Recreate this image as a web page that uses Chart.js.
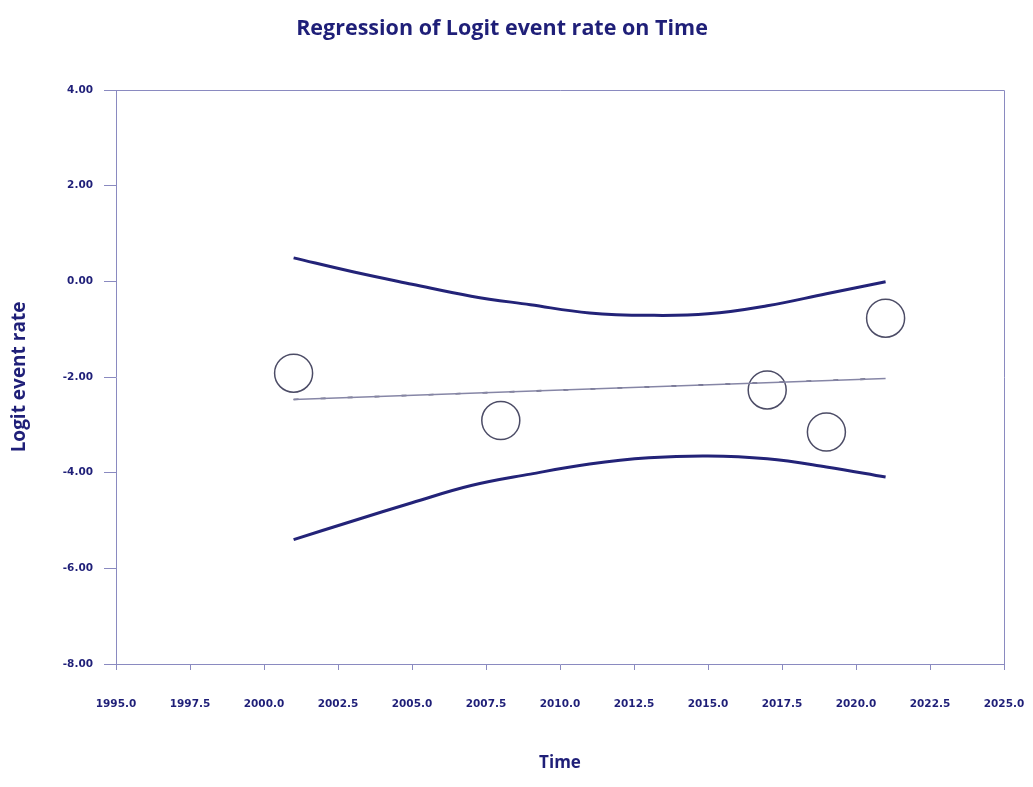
<!DOCTYPE html>
<html>
<head>
<meta charset="utf-8">
<script src="https://cdn.jsdelivr.net/npm/chart.js@4.4.1/dist/chart.umd.min.js"></script>
<style>
  html, body { margin: 0; padding: 0; background: #ffffff; }
  #wrap { width: 1033px; height: 787px; }
</style>
</head>
<body>
<div id="wrap"><canvas id="chart" width="1033" height="787"></canvas></div>
<script>
// Observed studies: year and logit event rate
const studyYears = [2001, 2008, 2017, 2019, 2021];
const logitRates = [-1.92, -2.91, -2.27, -3.15, -0.77];

// Fitted regression line (end points)
const fitYears = [2001, 2021];
const fitValues = [-2.47, -2.03];

// Confidence band around the fit
const bandYears = [2001, 2003, 2005, 2007, 2009, 2011, 2013, 2015, 2017, 2019, 2021];
const upperBand = [0.49, 0.20, -0.06, -0.31, -0.49, -0.66, -0.71, -0.68, -0.51, -0.26, -0.01];
const lowerBand = [-5.40, -5.01, -4.63, -4.27, -4.03, -3.82, -3.69, -3.65, -3.71, -3.88, -4.09];

// Axis ticks
const xTicks = [1995, 1997.5, 2000, 2002.5, 2005, 2007.5, 2010, 2012.5, 2015, 2017.5, 2020, 2022.5, 2025];
const yTicks = [4, 2, 0, -2, -4, -6, -8];

const NAVY = '#1f1f78';
const FRAME = '#8a8ac0';

const toXY = (xs, ys) => xs.map((x, i) => ({ x: x, y: ys[i] }));

// Closes the plot frame on the top and right sides
const frameBox = {
  id: 'frameBox',
  afterDatasetsDraw(chart) {
    const { ctx, chartArea: a } = chart;
    ctx.save();
    ctx.strokeStyle = FRAME;
    ctx.lineWidth = 1;
    ctx.beginPath();
    ctx.moveTo(a.left, a.top + 0.5);
    ctx.lineTo(a.right + 0.5, a.top + 0.5);
    ctx.lineTo(a.right + 0.5, a.bottom);
    ctx.stroke();
    ctx.restore();
  }
};

new Chart(document.getElementById('chart'), {
  type: 'scatter',
  data: {
    datasets: [
      {
        label: 'Upper limit',
        type: 'line',
        data: toXY(bandYears, upperBand),
        borderColor: '#232378',
        borderWidth: 3,
        pointRadius: 0,
        tension: 0.4,
        fill: false
      },
      {
        label: 'Lower limit',
        type: 'line',
        data: toXY(bandYears, lowerBand),
        borderColor: '#232378',
        borderWidth: 3,
        pointRadius: 0,
        tension: 0.4,
        fill: false
      },
      {
        label: 'Fit',
        type: 'line',
        data: toXY(fitYears, fitValues),
        borderColor: '#8686a6',
        borderWidth: 1.6,
        pointRadius: 0,
        fill: false
      },
      {
        label: 'Fit marks',
        type: 'line',
        data: toXY(fitYears, fitValues),
        borderColor: '#45455e',
        borderWidth: 1.6,
        borderDash: [5, 22],
        pointRadius: 0,
        fill: false
      },
      {
        label: 'Studies',
        data: toXY(studyYears, logitRates),
        pointStyle: 'circle',
        pointRadius: 19,
        pointHoverRadius: 19,
        backgroundColor: 'rgba(0,0,0,0)',
        borderColor: '#4c4c66',
        borderWidth: 1.5
      }
    ]
  },
  options: {
    responsive: false,
    animation: false,
    events: [],
    layout: { padding: { left: 0, right: 29, top: 0, bottom: 0 } },
    plugins: {
      legend: { display: false },
      tooltip: { enabled: false },
      title: {
        display: true,
        text: 'Regression of Logit event rate on Time',
        color: NAVY,
        font: { family: 'Open Sans', size: 21.5, weight: 'bold' },
        padding: { top: 16, bottom: 48.2 }
      }
    },
    scales: {
      x: {
        type: 'linear',
        min: 1995,
        max: 2025,
        afterBuildTicks: s => { s.ticks = xTicks.map(v => ({ value: v })); },
        afterFit: s => { s.height = 123; s.paddingLeft = 0; s.paddingRight = 0; },
        ticks: {
          color: NAVY,
          font: { family: 'DejaVu Sans', size: 10.5, weight: 'bold' },
          padding: 28,
          maxRotation: 0,
          autoSkip: false,
          callback: v => Number(v).toFixed(1)
        },
        grid: { drawOnChartArea: false, drawTicks: true, tickLength: 6, color: FRAME },
        border: { display: true, color: FRAME },
        title: {
          display: true,
          text: 'Time',
          color: NAVY,
          font: { family: 'Open Sans', size: 17, weight: 'bold' },
          padding: { top: 0, bottom: 13.8 }
        }
      },
      y: {
        type: 'linear',
        min: -8,
        max: 4,
        afterBuildTicks: s => { s.ticks = yTicks.map(v => ({ value: v })); },
        afterFit: s => { s.width = 116; },
        ticks: {
          color: NAVY,
          font: { family: 'DejaVu Sans', size: 10.5, weight: 'bold' },
          padding: 11,
          autoSkip: false,
          callback: v => Number(v).toFixed(2)
        },
        grid: { drawOnChartArea: false, drawTicks: true, tickLength: 12, color: FRAME },
        border: { display: true, color: FRAME },
        title: {
          display: true,
          text: 'Logit event rate',
          color: NAVY,
          font: { family: 'Open Sans', size: 19, weight: 'bold' },
          padding: { top: 8.6, bottom: 0 }
        }
      }
    }
  },
  plugins: [frameBox]
});
</script>
</body>
</html>
